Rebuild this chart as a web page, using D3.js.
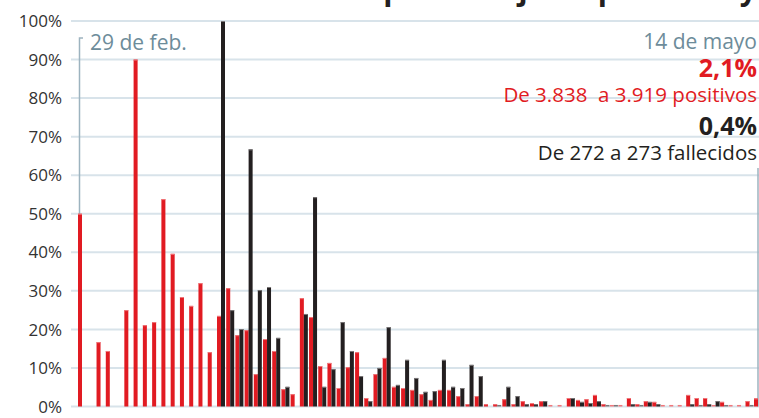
<!DOCTYPE html>
<html>
<head>
<meta charset="utf-8">
<script src="https://cdn.jsdelivr.net/npm/d3@7"></script>
<style>
  body { margin: 0; background: #fff; }
  svg { display: block; font-family: 'Open Sans', sans-serif; }
</style>
</head>
<body>
<svg id="chart" width="759" height="418"></svg>
<script>
'use strict';

// one entry per day, 29 feb -> 14 may (76 days)
const startDate = '2020-02-29';
const positivos = [
  50, 0, 16.7, 14.4, 0, 25.0, 90, 21.1, 21.9, 53.8,
  39.6, 28.4, 26.1, 32.0, 14.1, 23.5, 30.7, 18.5, 19.8, 8.4,
  17.5, 14.4, 4.5, 3.2, 28.1, 23.2, 10.5, 11.3, 4.8, 10.2,
  14.1, 2.2, 8.4, 12.6, 5.1, 4.8, 4.3, 3.2, 1.7, 4.3,
  4.3, 2.7, 0.6, 2.7, 0.6, 0.6, 1.9, 0.6, 1.4, 0.9,
  1.4, 0.4, 0.4, 2.2, 1.7, 1.9, 3.0, 0.6, 0.4, 0.4,
  2.2, 0.6, 1.4, 1.2, 0.4, 0.4, 0.4, 3.0, 2.2, 2.2,
  0.4, 1.2, 0.4, 0.4, 1.4, 2.1
];
const fallecidos = [
  0, 0, 0, 0, 0, 0, 0, 0, 0, 0,
  0, 0, 0, 0, 0, 100, 25.0, 20.1, 66.7, 30.2,
  31.0, 17.8, 5.1, 0, 24.0, 54.3, 5.1, 9.7, 21.9, 14.4,
  7.9, 1.4, 10.0, 20.6, 5.6, 12.1, 7.4, 3.8, 4.0, 12.1,
  5.1, 4.8, 10.8, 7.9, 0, 0.4, 5.1, 2.7, 0.6, 0.6,
  1.4, 0, 0, 2.2, 1.2, 0.9, 1.4, 0.4, 0.4, 0,
  0.6, 0.4, 1.2, 0.6, 0, 0, 0, 0.6, 0.4, 0.6,
  1.4, 0.4, 0, 0, 0.4, 0
];
const yTicks = [0, 10, 20, 30, 40, 50, 60, 70, 80, 90, 100];
const startLabel = '29 de feb.';
const endLabel = '14 de mayo';
const summaryLines = [
  {text: '2,1%', kind: 'pct', color: 'red'},
  {text: 'De 3.838  a 3.919 positivos', kind: 'txt', color: 'red'},
  {text: '0,4%', kind: 'pct', color: 'black'},
  {text: 'De 272 a 273 fallecidos', kind: 'txt', color: 'black'}
];
const titleText = 'Incremento diario en porcentaje de positivos y fallecidos en Aragón';

const red = '#e11b22';
const redCap = '#f0787c';
const black = '#231f20';
const blackCap = '#7a7778';
const slate = '#6d8c9a';
const gridColor = '#d8e3ea';
const barW = 4;

const svg = d3.select('#chart');

// the day spacing in the picture is not quite even, so the scale is piecewise
const x = d3.scaleLinear().domain([0, 15, 54, 75]).range([78, 217, 576, 754]);
const y = d3.scaleLinear().domain([0, 100]).range([406.5, 21]);

// title sits above the frame, only its descenders show
svg.append('text')
  .attr('x', 60).attr('y', -0.5)
  .attr('font-size', 30).attr('font-weight', 700)
  .attr('fill', black)
  .text(titleText);

// grid
const grid = svg.append('g');
grid.selectAll('line')
  .data(yTicks)
  .enter()
  .append('line')
  .attr('x1', 71).attr('x2', 759)
  .attr('y1', d => y(d)).attr('y2', d => y(d))
  .style('stroke', gridColor)
  .style('stroke-width', 2);

grid.selectAll('text')
  .data(yTicks)
  .enter()
  .append('text')
  .attr('x', 62)
  .attr('y', d => y(d))
  .attr('dy', '0.36em')
  .attr('text-anchor', 'end')
  .attr('font-size', 17)
  .attr('fill', '#333')
  .text(d => d + '%');

// brackets for first / last day
svg.append('path')
  .attr('d', `M 83 38 H 79.5 V ${y(positivos[0])}`)
  .style('fill', 'none')
  .style('stroke', '#9db3bf')
  .style('stroke-width', 1.5);
svg.append('line')
  .attr('x1', 758).attr('x2', 758)
  .attr('y1', 168).attr('y2', y(0))
  .style('stroke', '#9db3bf')
  .style('stroke-width', 1.5);

svg.append('text')
  .attr('x', 90).attr('y', 50)
  .attr('font-size', 21)
  .attr('fill', slate)
  .text(startLabel);

// bars
function drawSeries(values, offset, color, capColor) {
  const g = svg.append('g');
  const items = values.map((v, i) => ({v: v, i: i})).filter(d => d.v > 0);
  g.selectAll('rect.bar')
    .data(items)
    .enter()
    .append('rect')
    .attr('class', 'bar')
    .attr('x', d => x(d.i) + offset)
    .attr('width', barW)
    .attr('y', d => Math.min(y(d.v), y(0) - 1.5))
    .attr('height', d => Math.max(y(0) - y(d.v), 1.5))
    .attr('fill', d => d.v < 0.5 ? capColor : color);
  g.selectAll('rect.cap')
    .data(items.filter(d => d.v >= 0.5))
    .enter()
    .append('rect')
    .attr('class', 'cap')
    .attr('x', d => x(d.i) + offset)
    .attr('width', barW)
    .attr('y', d => y(d.v))
    .attr('height', 1)
    .attr('fill', capColor);
}
drawSeries(positivos, 0, red, redCap);
drawSeries(fallecidos, barW, black, blackCap);

// summary on the right
const right = svg.append('g').attr('text-anchor', 'end');
right.append('text')
  .attr('x', 757).attr('y', 49)
  .attr('font-size', 21)
  .attr('fill', slate)
  .text(endLabel);

const lineY = [77, 102, 135, 160];
right.selectAll('text.sum')
  .data(summaryLines)
  .enter()
  .append('text')
  .attr('class', 'sum')
  .attr('x', 757)
  .attr('y', (d, i) => lineY[i])
  .attr('font-size', d => d.kind === 'pct' ? 25 : 20.5)
  .attr('font-weight', d => d.kind === 'pct' ? 700 : 400)
  .attr('fill', d => d.color === 'red' ? red : black)
  .style('white-space', 'pre')
  .text(d => d.text);
</script>
</body>
</html>
